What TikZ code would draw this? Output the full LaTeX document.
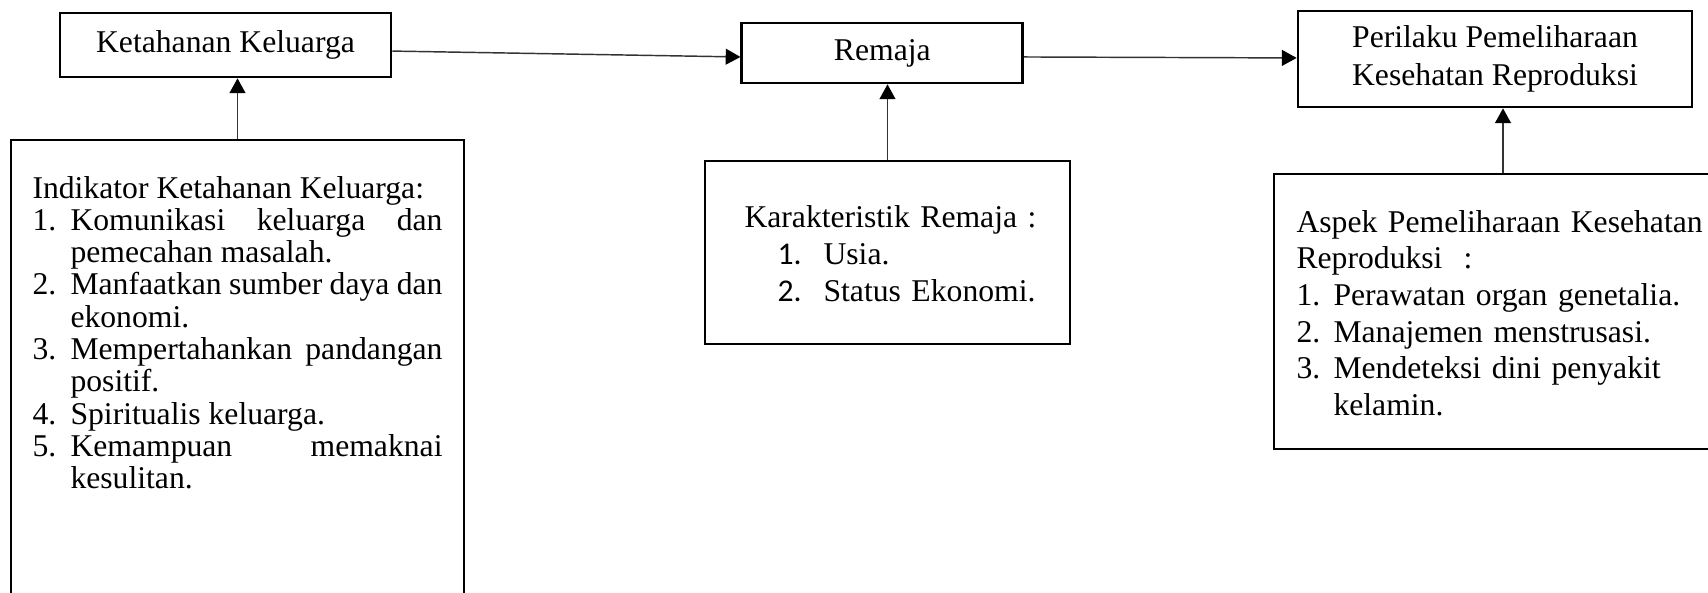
\documentclass[tikz,border=0pt]{standalone}
\usepackage{fontspec}
\setmainfont{Liberation Serif}
\newfontfamily\angkafont{Carlito}
\usetikzlibrary{arrows.meta,positioning,calc}

\newlength\unitpx
\setlength\unitpx{0.379pt}
% satu butir daftar bernomor dengan indentasi gantung
\newcommand\butir[2]{\par\hangindent=38\unitpx\hangafter=1\noindent\makebox[38\unitpx][l]{#1}#2}

\begin{document}
\begin{tikzpicture}[x=0.379pt,y=-0.379pt,
    kotak/.style={draw, line width=1pt, inner sep=0pt, align=center,
      font=\fontsize{12}{14.4}\selectfont},
    isi/.style={inner sep=0pt, anchor=base west},
    panah/.style={draw=black!80, line width=0.55pt,
      -{Triangle[length=5.6pt,width=6pt,color=black]}}]
    \useasboundingbox (0,0) rectangle (1708,592);

    % kotak atas
    \node[kotak, minimum width=331\unitpx, minimum height=64\unitpx] (ketahanan) at (225.5,45) {\raisebox{-3\unitpx}{Ketahanan Keluarga}};
    \node[kotak, minimum width=281\unitpx, minimum height=60\unitpx] (remaja) at (882.3,53) {\raisebox{-3\unitpx}{Remaja}};
    \node[kotak, minimum width=394\unitpx, minimum height=96\unitpx] (perilaku) at (1495,59) {Perilaku Pemeliharaan\\Kesehatan Reproduksi};

    % kotak bawah
    \node[kotak, minimum width=453\unitpx, minimum height=560\unitpx] (indikator) at (237.5,420) {};
    \node[kotak, minimum width=365\unitpx, minimum height=183\unitpx] (karakteristik) at (887.5,252.5) {};
    \node[kotak, minimum width=458\unitpx, minimum height=275\unitpx] (aspek) at (1503,311.5) {};

    % isi kotak bawah
    \node[isi, text width=410\unitpx, align=justify, font=\fontsize{12}{12.25}\selectfont] (indikatorteks) at (32,198)
      {\tolerance=10000 Indikator Ketahanan Keluarga:
       \butir{1.}{Komunikasi keluarga dan\linebreak pemecahan masalah.}
       \butir{2.}{Manfaatkan sumber daya dan\linebreak ekonomi.}
       \butir{3.}{Mempertahankan pandangan\linebreak positif.}
       \butir{4.}{Spiritualis keluarga.}
       \butir{5.}{Kemampuan memaknai\linebreak kesulitan.}\par};
    \node[isi, text width=320\unitpx, align=left, font=\fontsize{12}{14.2}\selectfont] (karakteristikteks) at (744,227)
      {Karakteristik Remaja :\\
       \hspace*{33\unitpx}\makebox[46\unitpx][l]{\angkafont 1.}Usia.\\
       \hspace*{33\unitpx}\makebox[46\unitpx][l]{\angkafont 2.}Status Ekonomi.};
    \node[isi, text width=430\unitpx, align=left, font=\fontsize{12}{13.9}\selectfont] (aspekteks) at (1296,232)
      {Aspek Pemeliharaan Kesehatan\\
       Reproduksi~~:\\
       \makebox[37\unitpx][l]{1.}Perawatan organ genetalia.\\
       \makebox[37\unitpx][l]{2.}Manajemen menstrusasi.\\
       \makebox[37\unitpx][l]{3.}Mendeteksi dini penyakit\\
       \hspace*{37\unitpx}kelamin.};

    % panah
    \draw[panah] ([yshift=-2.3pt]ketahanan.east) -- ([yshift=-1.5pt]remaja.west);
    \draw[panah] ([yshift=-1.5pt]remaja.east) -- ([yshift=0.4pt]perilaku.west);
    \draw[panah] (indikator.north) -- (indikator.north |- ketahanan.south);
    \draw[panah] (karakteristik.north) -- (karakteristik.north |- remaja.south);
    \draw[panah] (aspek.north) -- (aspek.north |- perilaku.south);
\end{tikzpicture}
\end{document}
